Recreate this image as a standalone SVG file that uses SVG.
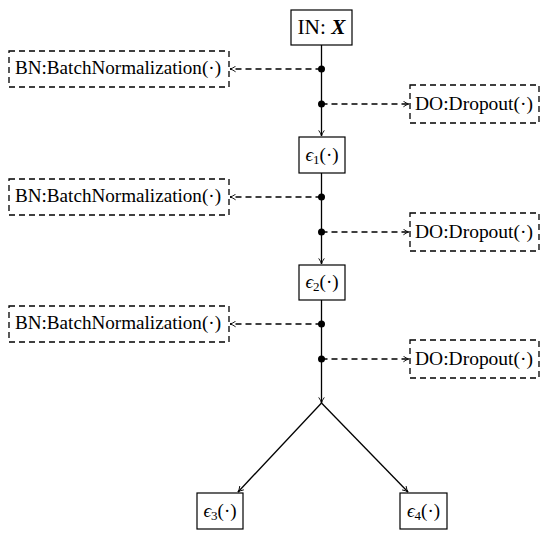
<svg xmlns="http://www.w3.org/2000/svg" width="550" height="537" viewBox="0 0 550 537">
<defs>
<marker id="arr" viewBox="0 0 10 10" refX="9" refY="5" markerWidth="7" markerHeight="7" markerUnits="userSpaceOnUse" orient="auto">
<path d="M1,1 Q5,4 9,5 Q5,6 1,9" fill="none" stroke="#000" stroke-width="1.3"/>
</marker>
</defs>
<style>
.box{fill:#fff;stroke:#000;stroke-width:1.2}
.dbox{fill:#fff;stroke:#000;stroke-width:1.3;stroke-dasharray:6,4}
.t{font-family:"Liberation Serif","DejaVu Serif",serif;font-size:19px;fill:#000}
.ln{stroke:#000;stroke-width:1.3;fill:none}
.dl{stroke:#000;stroke-width:1.3;fill:none;stroke-dasharray:6,4}
.sub{font-size:13px}
</style>
<g id="connectors">
<line class="ln" x1="321.5" y1="45" x2="321.5" y2="136" marker-end="url(#arr)"/>
<line class="ln" x1="321.5" y1="173" x2="321.5" y2="264" marker-end="url(#arr)"/>
<line class="ln" x1="321.5" y1="300" x2="321.5" y2="403" marker-end="url(#arr)"/>
<line class="ln" x1="321.5" y1="403" x2="238" y2="492" marker-end="url(#arr)"/>
<line class="ln" x1="321.5" y1="403" x2="408" y2="492" marker-end="url(#arr)"/>
<line class="dl" x1="321.5" y1="69" x2="230" y2="69" marker-end="url(#arr)"/>
<line class="dl" x1="321.5" y1="104" x2="409" y2="104" marker-end="url(#arr)"/>
<line class="dl" x1="321.5" y1="197" x2="230" y2="197" marker-end="url(#arr)"/>
<line class="dl" x1="321.5" y1="232" x2="409" y2="232" marker-end="url(#arr)"/>
<line class="dl" x1="321.5" y1="324" x2="230" y2="324" marker-end="url(#arr)"/>
<line class="dl" x1="321.5" y1="359" x2="409" y2="359" marker-end="url(#arr)"/>
<circle cx="321.5" cy="69" r="3.5"/>
<circle cx="321.5" cy="104" r="3.5"/>
<circle cx="321.5" cy="197" r="3.5"/>
<circle cx="321.5" cy="232" r="3.5"/>
<circle cx="321.5" cy="324" r="3.5"/>
<circle cx="321.5" cy="359" r="3.5"/>
</g>
<g id="in">
<rect class="box" x="291" y="10" width="61" height="35"/>
<text class="t" x="321.5" y="34" text-anchor="middle" textLength="48" lengthAdjust="spacingAndGlyphs" style="font-size:20px">IN: <tspan font-weight="bold" font-style="italic">X</tspan></text>
</g>
<g id="bn1">
<rect class="dbox" x="9" y="51" width="220" height="36"/>
<text class="t" x="15" y="74" textLength="206" lengthAdjust="spacingAndGlyphs">BN:BatchNormalization(·)</text>
</g>
<g id="do1">
<rect class="dbox" x="410" y="85" width="129" height="38"/>
<text class="t" x="415" y="110" textLength="118" lengthAdjust="spacingAndGlyphs">DO:Dropout(·)</text>
</g>
<g id="e1">
<rect class="box" x="299" y="137" width="46" height="36"/>
<text class="t" x="322" y="161" text-anchor="middle"><tspan font-style="italic">ϵ</tspan><tspan class="sub" dy="3">1</tspan><tspan dy="-3">(·)</tspan></text>
</g>
<g id="bn2">
<rect class="dbox" x="9" y="179" width="220" height="36"/>
<text class="t" x="15" y="202" textLength="206" lengthAdjust="spacingAndGlyphs">BN:BatchNormalization(·)</text>
</g>
<g id="do2">
<rect class="dbox" x="410" y="213" width="129" height="38"/>
<text class="t" x="415" y="238" textLength="118" lengthAdjust="spacingAndGlyphs">DO:Dropout(·)</text>
</g>
<g id="e2">
<rect class="box" x="299" y="265" width="46" height="35"/>
<text class="t" x="322" y="288" text-anchor="middle"><tspan font-style="italic">ϵ</tspan><tspan class="sub" dy="3">2</tspan><tspan dy="-3">(·)</tspan></text>
</g>
<g id="bn3">
<rect class="dbox" x="9" y="306" width="220" height="36"/>
<text class="t" x="15" y="329" textLength="206" lengthAdjust="spacingAndGlyphs">BN:BatchNormalization(·)</text>
</g>
<g id="do3">
<rect class="dbox" x="410" y="340" width="129" height="38"/>
<text class="t" x="415" y="365" textLength="118" lengthAdjust="spacingAndGlyphs">DO:Dropout(·)</text>
</g>
<g id="e3">
<rect class="box" x="197" y="493" width="46" height="36"/>
<text class="t" x="220" y="517" text-anchor="middle"><tspan font-style="italic">ϵ</tspan><tspan class="sub" dy="3">3</tspan><tspan dy="-3">(·)</tspan></text>
</g>
<g id="e4">
<rect class="box" x="400" y="493" width="47" height="36"/>
<text class="t" x="423.5" y="517" text-anchor="middle"><tspan font-style="italic">ϵ</tspan><tspan class="sub" dy="3">4</tspan><tspan dy="-3">(·)</tspan></text>
</g>
</svg>
